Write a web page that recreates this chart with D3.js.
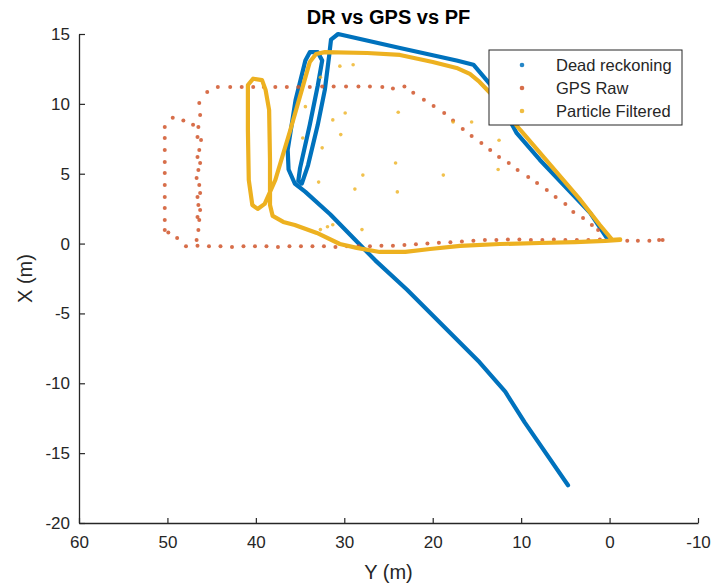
<!DOCTYPE html>
<html>
<head>
<meta charset="utf-8">
<script src="https://cdn.jsdelivr.net/npm/d3@7"></script>
<style>
  body { margin: 0; background: #fff; }
  svg { font-family: "Liberation Sans", Arial, sans-serif; }
</style>
</head>
<body>
<svg id="chart" width="712" height="585"></svg>
<script>
// data, each point is [Y (m), X (m)]
var deadReckoning = [
    [0.3, 0.4], [2.2, 2.2], [7.9, 6.0], [10.5, 7.9], [13.5, 11.4], [15.4, 12.8],
    [17.3, 13.1], [23.7, 14.0], [30.7, 15.0], [31.5, 14.6], [31.7, 13.5], [32.2, 11.0],
    [33.0, 8.5], [34.1, 5.6], [34.8, 4.3], [35.2, 4.5], [35.0, 5.4], [33.9, 8.5],
    [33.0, 11.3], [32.5, 13.1], [33.0, 13.7], [33.9, 13.7], [34.4, 13.1], [35.5, 10.3],
    [36.4, 6.7], [36.3, 5.3], [35.6, 4.3], [34.4, 3.7], [31.6, 2.1], [28.2, -0.1],
    [26.5, -1.2], [22.9, -3.3], [14.7, -8.5], [11.8, -10.6], [9.6, -12.8], [4.7, -17.3]
];

var particleFiltered = [
    [-1.2, 0.26], [0.5, 0.19], [3.9, 0.11], [7.9, 0.04], [12.4, -0.03], [16.9, -0.17],
    [20.3, -0.39], [23.1, -0.6], [26.0, -0.6], [28.6, -0.31], [30.5, -0.03], [33.1, 0.76],
    [35.6, 1.33], [36.9, 1.55], [38.1, 1.98], [38.4, 2.76], [38.4, 5.98], [38.5, 9.56],
    [38.9, 11.0], [39.3, 11.7], [40.3, 11.8], [40.9, 11.35], [40.9, 8.13], [40.8, 4.55],
    [40.4, 2.76], [39.8, 2.48], [39.0, 2.84], [37.8, 4.55], [36.1, 8.13], [34.8, 11.0],
    [33.9, 13.0], [33.2, 13.57], [32.2, 13.7], [27.4, 13.64], [23.7, 13.5], [20.0, 13.0],
    [17.3, 12.57], [15.8, 12.14], [14.7, 11.57], [13.5, 10.78], [10.1, 8.13], [6.7, 5.63],
    [3.3, 3.12], [1.1, 1.33], [-0.3, 0.26], [-1.2, 0.3]
];

// stray particle filter estimates
var particleStray = [
    [30.5, 12.7], [29.0, 12.8], [32.7, 11.9], [34.4, 9.8], [29.9, 9.35], [31.3, 8.85],
    [23.9, 9.4], [30.4, 7.8], [34.7, 7.56], [32.5, 6.85], [24.2, 5.77], [27.9, 4.9],
    [18.8, 4.9], [32.9, 4.4], [28.8, 3.9], [24.0, 3.7], [17.7, 8.7], [15.6, 8.7],
    [12.5, 7.4], [12.6, 5.3], [32.7, 1.0], [31.9, 1.2], [31.3, 1.35], [28.0, 1.0]
];

var gpsRaw = [
    // bottom run
    [47.9, -0.2], [46.6, -0.15], [45.3, -0.2], [44.0, -0.2], [42.7, -0.25], [41.4, -0.2],
    [40.1, -0.2], [38.8, -0.2], [37.5, -0.25], [36.2, -0.2], [34.9, -0.2], [33.6, -0.2],
    [32.3, -0.2], [31.0, -0.25], [29.7, -0.2], [28.4, -0.2], [27.1, -0.2], [25.8, -0.15],
    [24.5, -0.15], [23.2, -0.1], [21.9, -0.05], [20.6, 0.0], [19.3, 0.05], [18.0, 0.1],
    [16.7, 0.15], [15.4, 0.2], [14.1, 0.25], [12.8, 0.25], [11.5, 0.3], [10.2, 0.3],
    [8.9, 0.25], [7.6, 0.25], [6.3, 0.3], [5.0, 0.25], [3.7, 0.25], [2.4, 0.25],
    [1.1, 0.3], [-2.0, 0.2], [-3.2, 0.2], [-4.5, 0.2], [-5.6, 0.25], [-6.0, 0.25],
    // small loop on the left
    [50.3, 8.35], [50.3, 7.56], [50.3, 6.7], [50.3, 5.84], [50.3, 5.05], [50.3, 4.2],
    [50.3, 3.34], [50.3, 2.55], [50.3, 1.69], [50.3, 0.97], [49.9, 0.8], [48.9, 0.4],
    [49.4, 9.0], [48.2, 8.8], [47.1, 8.5],
    [46.4, 10.06], [46.3, 9.2], [46.5, 8.35], [46.6, 7.63], [46.2, 7.42], [46.4, 6.7],
    [46.6, 6.2], [46.3, 5.77], [46.5, 5.27], [46.7, 4.7], [46.4, 4.2], [46.3, 3.62],
    [46.6, 3.34], [46.5, 2.76], [46.3, 2.4], [46.6, 1.9], [46.4, 1.69], [46.5, 0.97],
    [46.7, 0.26],
    // top run
    [45.5, 10.85], [44.3, 11.2], [42.9, 11.2], [41.6, 11.2], [40.3, 11.2], [39.1, 11.2],
    [37.8, 11.2], [36.5, 11.2], [35.2, 11.2], [33.9, 11.2], [32.5, 11.25], [31.2, 11.25],
    [29.8, 11.25], [28.4, 11.25], [27.1, 11.25], [25.7, 11.2], [24.5, 11.1], [23.2, 11.25],
    // diagonal back to start
    [22.2, 10.8], [21.0, 10.3], [19.9, 9.85], [18.7, 9.35], [17.7, 8.8], [16.6, 8.2],
    [15.6, 7.7], [14.5, 7.2], [13.5, 6.7], [12.5, 6.2], [11.4, 5.77], [10.4, 5.27],
    [9.2, 4.77], [8.2, 4.34], [7.1, 3.84], [6.1, 3.34], [5.0, 2.84], [4.1, 2.26],
    [3.0, 1.83], [2.0, 1.33], [1.3, 0.97]
];

var xTicks = [60, 50, 40, 30, 20, 10, 0, -10];
var yTicks = [-20, -15, -10, -5, 0, 5, 10, 15];
var legendNames = ["Dead reckoning", "GPS Raw", "Particle Filtered"];
var colors = ["#0072BD", "#D0552A", "#EDB120"];

var svg = d3.select("#chart");
var margin = {left: 79, right: 14, top: 34, bottom: 62};
var W = 712, H = 585;

var x = d3.scaleLinear().domain([60, -10]).range([margin.left, W - margin.right]);
var y = d3.scaleLinear().domain([-20, 15]).range([H - margin.bottom, margin.top]);

var axisColor = "#262626";

// x axis
var gx = svg.append("g")
    .attr("transform", "translate(0," + y(-20) + ")")
    .call(d3.axisBottom(x).tickValues(xTicks).tickSizeInner(-5).tickSizeOuter(0)
        .tickPadding(16).tickFormat(function(d){ return String(d); }));
// y axis
var gy = svg.append("g")
    .attr("transform", "translate(" + x(60) + ",0)")
    .call(d3.axisLeft(y).tickValues(yTicks).tickSizeInner(-6).tickSizeOuter(0)
        .tickPadding(9).tickFormat(function(d){ return String(d); }));

[gx, gy].forEach(function(g){
    g.select(".domain").attr("stroke", axisColor).attr("stroke-width", 1.3);
    g.selectAll(".tick line").attr("stroke", axisColor).attr("stroke-width", 1.2);
    g.selectAll(".tick text").attr("fill", axisColor).style("font-size", "17px");
});
gx.selectAll(".tick text").attr("dy", "0.5em");

var line = d3.line()
    .x(function(d){ return x(d[0]); })
    .y(function(d){ return y(d[1]); });

// dead reckoning
svg.append("path")
    .datum(deadReckoning)
    .attr("d", line)
    .attr("fill", "none")
    .attr("stroke", colors[0])
    .attr("stroke-width", 4.2)
    .attr("stroke-linejoin", "round")
    .attr("stroke-linecap", "round");

// gps raw
svg.append("g").selectAll("circle")
    .data(gpsRaw)
    .enter().append("circle")
    .attr("cx", function(d){ return x(d[0]); })
    .attr("cy", function(d){ return y(d[1]); })
    .attr("r", 2)
    .attr("fill", colors[1])
    .attr("opacity", 0.85);

// particle filtered
svg.append("path")
    .datum(particleFiltered)
    .attr("d", line)
    .attr("fill", "none")
    .attr("stroke", colors[2])
    .attr("stroke-width", 4.2)
    .attr("stroke-linejoin", "round")
    .attr("stroke-linecap", "round");

svg.append("g").selectAll("circle")
    .data(particleStray)
    .enter().append("circle")
    .attr("cx", function(d){ return x(d[0]); })
    .attr("cy", function(d){ return y(d[1]); })
    .attr("r", 1.8)
    .attr("fill", colors[2])
    .attr("opacity", 0.8);

// title and labels
svg.append("text")
    .attr("x", (x(60) + x(-10)) / 2)
    .attr("y", 24)
    .attr("text-anchor", "middle")
    .style("font-size", "20px")
    .style("font-weight", "bold")
    .attr("fill", "#000")
    .text("DR vs GPS vs PF");

svg.append("text")
    .attr("x", (x(60) + x(-10)) / 2)
    .attr("y", 579)
    .attr("text-anchor", "middle")
    .style("font-size", "20px")
    .attr("fill", axisColor)
    .text("Y (m)");

svg.append("text")
    .attr("transform", "translate(32," + ((y(15) + y(-20)) / 2) + ") rotate(-90)")
    .attr("text-anchor", "middle")
    .style("font-size", "20px")
    .attr("fill", axisColor)
    .text("X (m)");

// legend
var lg = svg.append("g").attr("transform", "translate(489,50)");
lg.append("rect")
    .attr("width", 193).attr("height", 75)
    .attr("fill", "#fff")
    .attr("stroke", axisColor)
    .attr("stroke-width", 1);
legendNames.forEach(function(name, i){
    var cy = 15 + i * 23;
    lg.append("circle").attr("cx", 33).attr("cy", cy).attr("r", 2.3)
        .attr("fill", colors[i]).attr("opacity", 0.85);
    lg.append("text").attr("x", 67).attr("y", cy + 6)
        .style("font-size", "16.5px").attr("fill", axisColor).text(name);
});
</script>
</body>
</html>
